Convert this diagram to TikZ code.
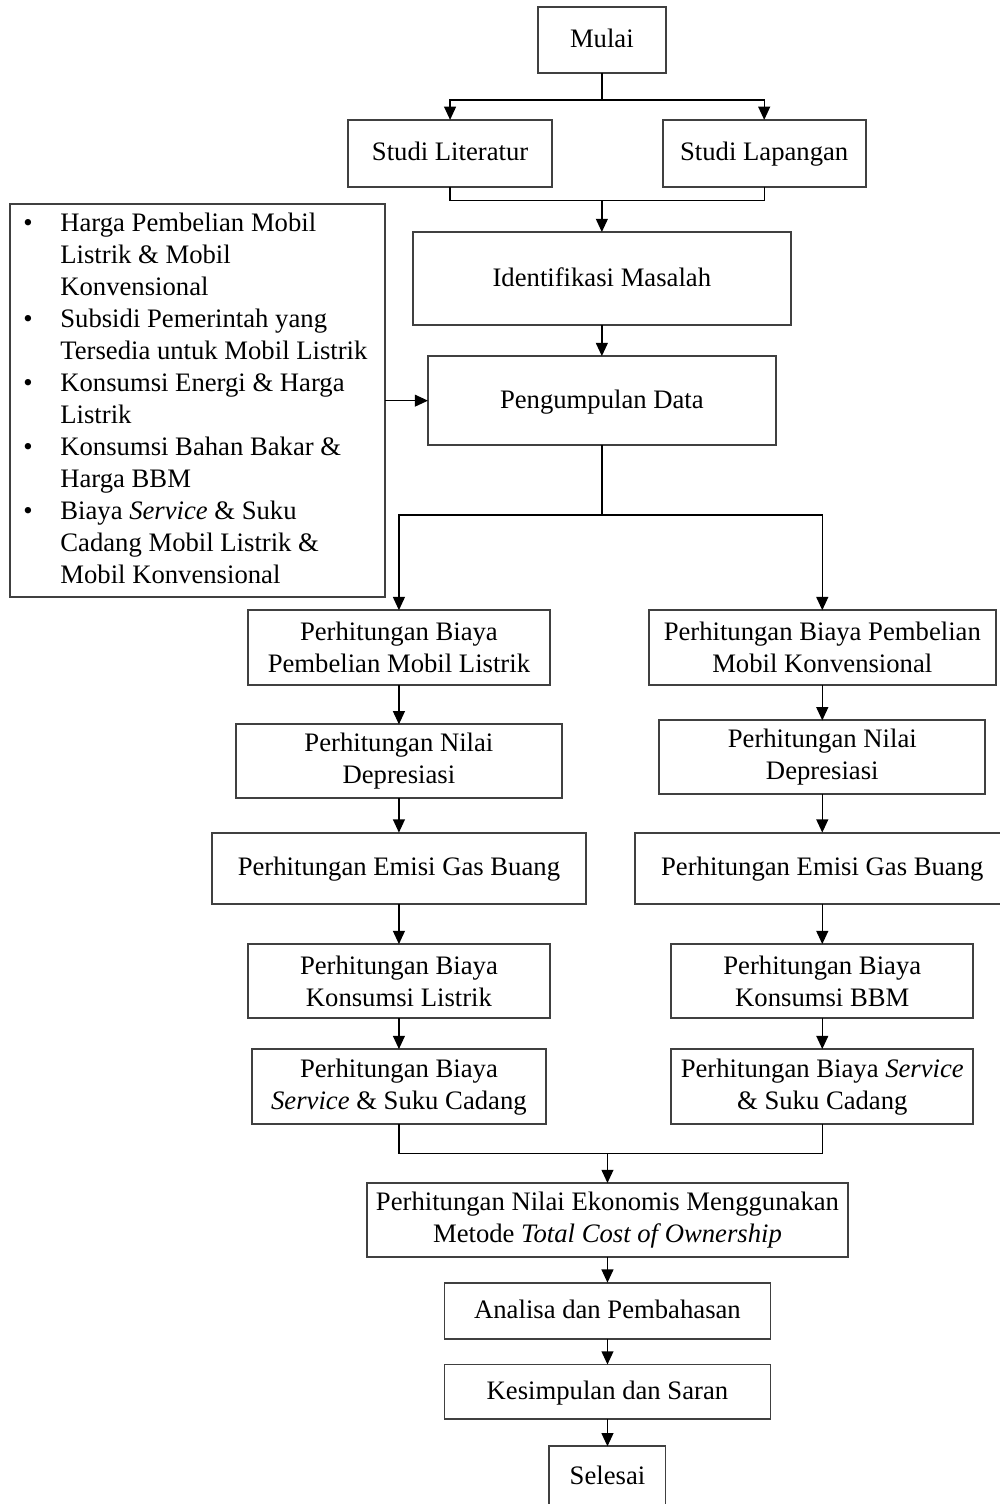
\documentclass[tikz,border=0pt]{standalone}
\usepackage{fontspec}
\setmainfont{Liberation Serif}
\usetikzlibrary{arrows.meta,positioning,calc}

\begin{document}
\begin{tikzpicture}[
  >={Triangle[width=1.8mm,length=2mm]}, line width=0.6pt,
  font=\fontsize{11.5}{13.8}\selectfont,
  box/.style={rectangle, draw=black!75, line width=0.8pt, align=center, inner sep=0pt, outer sep=0pt},
  one/.style={text height=2ex, text depth=.6ex}
]
\useasboundingbox (0,0) rectangle (151.5mm,-227.9mm);

\node[box, one, minimum width=19.4mm, minimum height=10mm] (M) at (91.2mm,-6.06mm) {Mulai};
\node[box, one, minimum width=30.9mm, minimum height=10.2mm, below=7.1mm of M, xshift=-23mm] (SL) {Studi Literatur};
\node[box, one, minimum width=30.8mm, minimum height=10.2mm, below=7.1mm of M, xshift=24.6mm] (SP) {Studi Lapangan};
\node[box, one, minimum width=57.3mm, minimum height=14.1mm, below=24.1mm of M] (IM) {Identifikasi Masalah};
\node[box, one, minimum width=52.7mm, minimum height=13.5mm, below=4.7mm of IM] (PD) {Pengumpulan Data};
\node[box, minimum width=56.8mm, minimum height=59.5mm, left=6.5mm of PD] (LB) {%
  \begin{tabular}{@{\hspace{2mm}}p{5.6mm}@{}p{49.2mm}@{}}
  \textbullet & Harga Pembelian Mobil\newline Listrik \& Mobil\newline Konvensional\\
  \textbullet & Subsidi Pemerintah yang\newline Tersedia untuk Mobil Listrik\\
  \textbullet & Konsumsi Energi \& Harga\newline Listrik\\
  \textbullet & Konsumsi Bahan Bakar \&\newline Harga BBM\\
  \textbullet & Biaya \textit{Service} \& Suku\newline Cadang Mobil Listrik \&\newline Mobil Konvensional
  \end{tabular}};

% kolom mobil listrik
\node[box, minimum width=45.8mm, minimum height=11.4mm, below=25mm of PD, xshift=-30.75mm] (L1) {Perhitungan Biaya\\Pembelian Mobil Listrik};
\node[box, minimum width=49.4mm, minimum height=11.1mm, below=5.9mm of L1] (L2) {Perhitungan Nilai\\Depresiasi};
\node[box, one, minimum width=56.7mm, minimum height=10.8mm, below=5.3mm of L2] (L3) {Perhitungan Emisi Gas Buang};
\node[box, minimum width=45.8mm, minimum height=11.2mm, below=6.1mm of L3] (L4) {Perhitungan Biaya\\Konsumsi Listrik};
\node[box, minimum width=44.5mm, minimum height=11.4mm, below=4.7mm of L4] (L5) {Perhitungan Biaya\\\textit{Service} \& Suku Cadang};

% kolom mobil konvensional
\node[box, minimum width=52.6mm, minimum height=11.4mm, below=25mm of PD, xshift=33.4mm] (R1) {Perhitungan Biaya Pembelian\\Mobil Konvensional};
\node[box, minimum width=49.4mm, minimum height=11.2mm, below=5.3mm of R1] (R2) {Perhitungan Nilai\\Depresiasi};
\node[box, one, minimum width=56.7mm, minimum height=10.8mm, below=5.8mm of R2] (R3) {Perhitungan Emisi Gas Buang};
\node[box, minimum width=45.8mm, minimum height=11.2mm, below=6.1mm of R3] (R4) {Perhitungan Biaya\\Konsumsi BBM};
\node[box, minimum width=45.8mm, minimum height=11.4mm, below=4.7mm of R4] (R5) {Perhitungan Biaya \textit{Service}\\\& Suku Cadang};

\node[box, minimum width=72.9mm, minimum height=11.2mm, below=8.9mm of L5, xshift=31.6mm] (TCO) {Perhitungan Nilai Ekonomis Menggunakan\\Metode \textit{Total Cost of Ownership}};
\node[box, one, minimum width=49.4mm, minimum height=8.5mm, below=3.9mm of TCO] (AP) {Analisa dan Pembahasan};
\node[box, one, minimum width=49.4mm, minimum height=8.3mm, below=3.9mm of AP] (KS) {Kesimpulan dan Saran};
\node[box, one, minimum width=17.6mm, minimum height=9.2mm, below=4.1mm of KS] (SE) {Selesai};

\draw (M.south) -- ++(0,-4.1mm) coordinate (j1);
\draw[->] (j1) -| (SL.north);
\draw[->] (j1) -| (SP.north);
\draw (SL.south) -- ++(0,-2mm) coordinate (j2) -| (SP.south);
\draw[->] (j2 -| IM.north) -- (IM.north);
\draw[->] (IM) -- (PD);
\draw[->] (LB.east) -- (PD.west);
\draw (PD.south) -- ++(0,-10.6mm) coordinate (j3);
\draw[->] (j3) -| (L1.north);
\draw[->] (j3) -| (R1.north);
\foreach \a/\b in {L1/L2,L2/L3,L3/L4,L4/L5,R1/R2,R2/R3,R3/R4,R4/R5,TCO/AP,AP/KS,KS/SE}
  \draw[->] (\a) -- (\b);
\draw (L5.south) -- ++(0,-4.4mm) coordinate (j4) -| (R5.south);
\draw[->] (j4 -| TCO.north) -- (TCO.north);
\end{tikzpicture}
\end{document}
